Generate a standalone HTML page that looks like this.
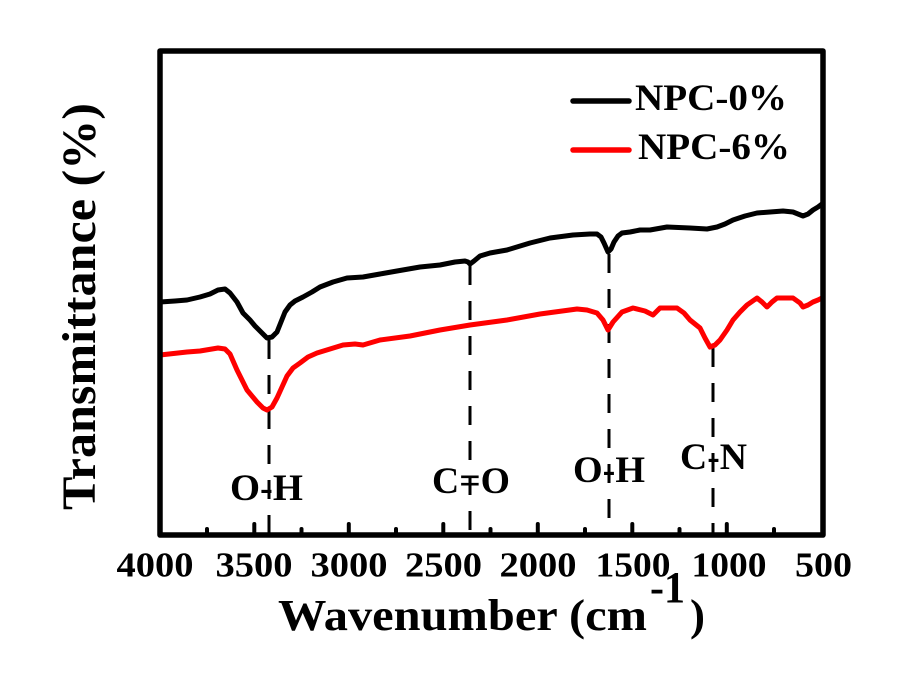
<!DOCTYPE html>
<html>
<head>
<meta charset="utf-8">
<style>
  html, body { margin: 0; padding: 0; background: #ffffff; }
  svg { display: block; }
  text { font-family: "Liberation Serif", "Times New Roman", serif; font-weight: bold; fill: #000; }
</style>
</head>
<body>
<svg width="915" height="693" viewBox="0 0 915 693" xmlns="http://www.w3.org/2000/svg">
  <rect x="0" y="0" width="915" height="693" fill="#ffffff"/>

  <!-- dashed marker lines -->
  <g stroke="#000" stroke-width="3" stroke-dasharray="19 16" fill="none">
    <line x1="269" y1="340" x2="269" y2="533"/>
    <line x1="470" y1="266" x2="470" y2="533"/>
    <line x1="609" y1="254" x2="609" y2="533"/>
    <line x1="713" y1="348" x2="713" y2="533"/>
  </g>

  <!-- black curve NPC-0% -->
  <polyline fill="none" stroke="#000" stroke-width="5" stroke-linejoin="round" stroke-linecap="round"
    points="160,302 175,301 187,300 200,297 210,294 218,290 225,289 230,293 237,302 243,313 250,320 255,326 262,333 267,338 272,337 277,332 281,322 285,312 290,305 295,301 303,297 312,292 320,287 333,282 347,278 363,277 380,274 397,271 420,267 440,265 455,262 465,261 468,262 470,264 474,261 480,256 490,253 507,250 530,243 550,238 573,235 590,234 597,234 601,237 604,243 608,252 611,249 614,242 618,236 622,233 630,232 640,230 650,230 667,227 690,228 707,229 717,227 725,224 733,220 745,216 757,213 770,212 783,211 793,212 803,216 808,214 813,210 818,207 822,204"/>

  <!-- red curve NPC-6% -->
  <polyline fill="none" stroke="#ff0000" stroke-width="5" stroke-linejoin="round" stroke-linecap="round"
    points="160,355 187,352 200,351 218,348 225,349 230,354 237,370 243,382 247,390 257,402 263,408 267,410 272,407 277,398 282,387 287,376 293,368 300,363 308,357 317,353 330,349 343,345 355,344 363,345 380,340 410,336 440,330 470,325 507,320 540,314 577,309 587,310 597,313 603,320 608,330 613,322 622,312 633,308 645,311 653,315 660,308 677,308 684,313 690,320 700,328 705,338 710,347 715,345 720,340 727,330 733,320 740,312 747,305 757,298 762,302 767,307 772,302 777,298 793,298 800,303 803,307 808,305 813,302 818,300 822,298"/>

  <!-- frame -->
  <rect x="160" y="51" width="663" height="484" fill="none" stroke="#000" stroke-width="5.5" stroke-linejoin="round"/>

  <!-- ticks -->
  <g stroke="#000" stroke-width="4" stroke-linecap="round">
    <line x1="254.3" y1="535" x2="254.3" y2="524"/>
    <line x1="348.8" y1="535" x2="348.8" y2="524"/>
    <line x1="443.3" y1="535" x2="443.3" y2="524"/>
    <line x1="537.8" y1="535" x2="537.8" y2="524"/>
    <line x1="632.3" y1="535" x2="632.3" y2="524"/>
    <line x1="726.8" y1="535" x2="726.8" y2="524"/>
    <line x1="207" y1="535" x2="207" y2="529"/>
    <line x1="301.5" y1="535" x2="301.5" y2="529"/>
    <line x1="396" y1="535" x2="396" y2="529"/>
    <line x1="490.5" y1="535" x2="490.5" y2="529"/>
    <line x1="585" y1="535" x2="585" y2="529"/>
    <line x1="679.5" y1="535" x2="679.5" y2="529"/>
    <line x1="774" y1="535" x2="774" y2="529"/>
  </g>

  <!-- tick labels -->
  <g font-size="35" text-anchor="middle">
    <text x="155" y="576.5" textLength="77" lengthAdjust="spacingAndGlyphs">4000</text>
    <text x="254" y="576.5" textLength="77" lengthAdjust="spacingAndGlyphs">3500</text>
    <text x="349" y="576.5" textLength="77" lengthAdjust="spacingAndGlyphs">3000</text>
    <text x="443.5" y="576.5" textLength="77" lengthAdjust="spacingAndGlyphs">2500</text>
    <text x="538" y="576.5" textLength="77" lengthAdjust="spacingAndGlyphs">2000</text>
    <text x="633" y="576.5" textLength="75" lengthAdjust="spacingAndGlyphs">1500</text>
    <text x="729" y="576.5" textLength="75" lengthAdjust="spacingAndGlyphs">1000</text>
    <text x="823.5" y="576.5" textLength="57" lengthAdjust="spacingAndGlyphs">500</text>
  </g>

  <!-- x axis title -->
  <text x="278" y="630" font-size="44" textLength="369" lengthAdjust="spacingAndGlyphs">Wavenumber (cm</text>
  <text x="650" y="602" font-size="44" textLength="35" lengthAdjust="spacingAndGlyphs">-1</text>
  <text x="690" y="630" font-size="44" textLength="15" lengthAdjust="spacingAndGlyphs">)</text>

  <!-- y axis title -->
  <text transform="translate(95,306.5) rotate(-90)" x="0" y="0" font-size="48" text-anchor="middle" textLength="407" lengthAdjust="spacingAndGlyphs">Transmittance (%)</text>

  <!-- legend -->
  <line x1="573" y1="101" x2="629" y2="101" stroke="#000" stroke-width="5.5" stroke-linecap="round"/>
  <line x1="573" y1="150" x2="629" y2="150" stroke="#ff0000" stroke-width="5.5" stroke-linecap="round"/>
  <text x="635" y="110" font-size="37" textLength="152" lengthAdjust="spacingAndGlyphs">NPC-0%</text>
  <text x="638" y="159" font-size="37" textLength="152" lengthAdjust="spacingAndGlyphs">NPC-6%</text>

  <!-- peak annotations -->
  <text x="230" y="500" font-size="37" textLength="73" lengthAdjust="spacingAndGlyphs">O-H</text>
  <text x="432" y="493" font-size="37" textLength="78" lengthAdjust="spacingAndGlyphs">C=O</text>
  <text x="573" y="482" font-size="37" textLength="72" lengthAdjust="spacingAndGlyphs">O-H</text>
  <text x="680" y="469" font-size="37" textLength="67" lengthAdjust="spacingAndGlyphs">C-N</text>
</svg>
</body>
</html>
